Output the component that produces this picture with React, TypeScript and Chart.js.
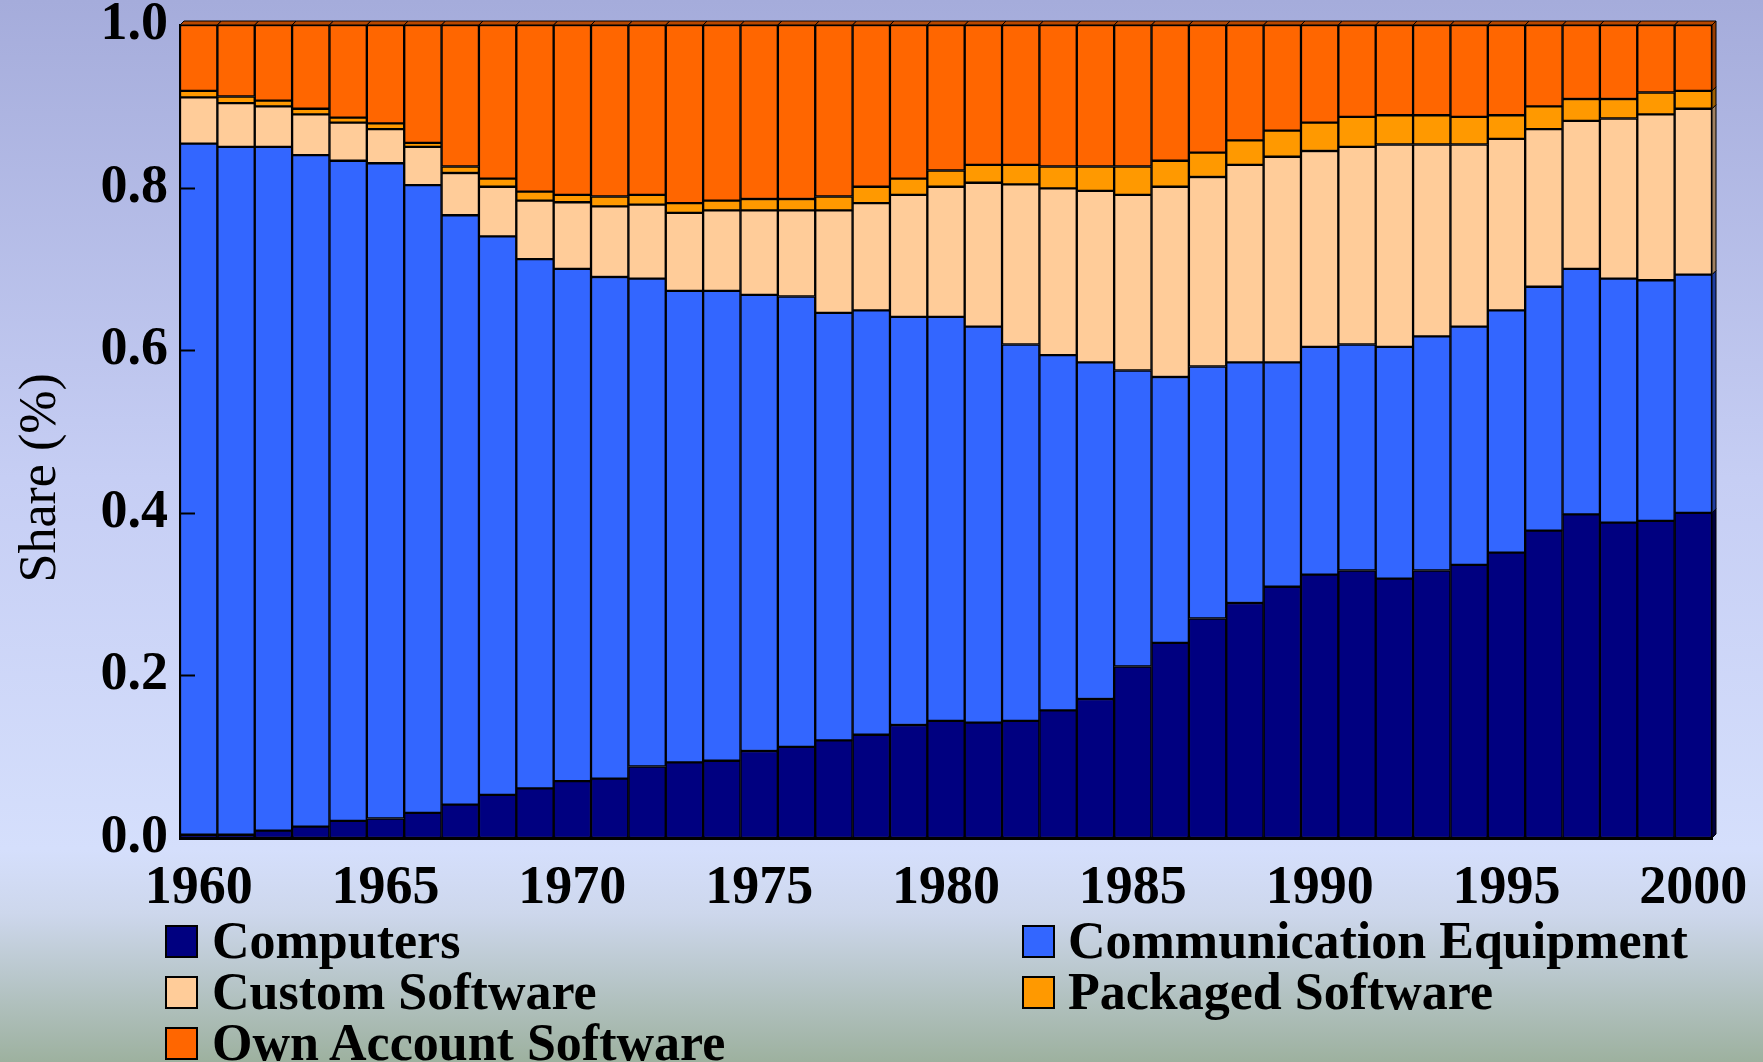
import React, { useEffect, useRef } from "react";
import { Chart, registerables } from "chart.js";

Chart.register(...registerables);

// ---- data ----
const years = [
  "1960", "1961", "1962", "1963", "1964", "1965", "1966", "1967", "1968", "1969",
  "1970", "1971", "1972", "1973", "1974", "1975", "1976", "1977", "1978", "1979",
  "1980", "1981", "1982", "1983", "1984", "1985", "1986", "1987", "1988", "1989",
  "1990", "1991", "1992", "1993", "1994", "1995", "1996", "1997", "1998", "1999",
  "2000",
];
const shownYearTicks = ["1960", "1965", "1970", "1975", "1980", "1985", "1990", "1995", "2000"];
const yTickValues = [0, 0.2, 0.4, 0.6, 0.8, 1.0];

const computers = [
  0.004, 0.004, 0.009, 0.014, 0.021, 0.024, 0.031, 0.041, 0.053, 0.061,
  0.070, 0.073, 0.088, 0.093, 0.095, 0.107, 0.112, 0.120, 0.127, 0.139,
  0.144, 0.142, 0.144, 0.157, 0.171, 0.211, 0.240, 0.270, 0.289, 0.309,
  0.324, 0.329, 0.319, 0.329, 0.336, 0.351, 0.378, 0.398, 0.388, 0.390,
  0.400,
];
const communicationEquipment = [
  0.850, 0.846, 0.841, 0.826, 0.812, 0.806, 0.772, 0.725, 0.687, 0.651,
  0.630, 0.617, 0.600, 0.580, 0.578, 0.561, 0.554, 0.526, 0.522, 0.502,
  0.497, 0.487, 0.463, 0.437, 0.414, 0.364, 0.327, 0.310, 0.296, 0.276,
  0.280, 0.278, 0.285, 0.288, 0.293, 0.298, 0.300, 0.302, 0.300, 0.296,
  0.293,
];
const customSoftware = [
  0.057, 0.054, 0.050, 0.050, 0.047, 0.042, 0.047, 0.052, 0.061, 0.072,
  0.082, 0.087, 0.091, 0.096, 0.099, 0.104, 0.106, 0.126, 0.132, 0.150,
  0.160, 0.177, 0.197, 0.205, 0.211, 0.216, 0.234, 0.233, 0.243, 0.253,
  0.241, 0.243, 0.249, 0.236, 0.224, 0.211, 0.194, 0.182, 0.197, 0.204,
  0.204,
];
const packagedSoftware = [
  0.008, 0.008, 0.007, 0.007, 0.006, 0.007, 0.005, 0.008, 0.010, 0.011,
  0.009, 0.012, 0.012, 0.012, 0.012, 0.014, 0.014, 0.017, 0.020, 0.020,
  0.020, 0.022, 0.024, 0.027, 0.030, 0.035, 0.032, 0.030, 0.030, 0.032,
  0.035, 0.037, 0.036, 0.036, 0.034, 0.029, 0.028, 0.027, 0.024, 0.027,
  0.022,
];
const ownAccountSoftware = [
  0.081, 0.088, 0.093, 0.103, 0.114, 0.121, 0.145, 0.174, 0.189, 0.205,
  0.209, 0.211, 0.209, 0.219, 0.216, 0.214, 0.214, 0.211, 0.199, 0.189,
  0.179, 0.172, 0.172, 0.174, 0.174, 0.174, 0.167, 0.157, 0.142, 0.130,
  0.120, 0.113, 0.111, 0.111, 0.113, 0.111, 0.100, 0.091, 0.091, 0.083,
  0.081,
];

const seriesNames = [
  "Computers",
  "Communication Equipment",
  "Custom Software",
  "Packaged Software",
  "Own Account Software",
];
const seriesValues = [computers, communicationEquipment, customSoftware, packagedSoftware, ownAccountSoftware];
const seriesColors = ["#000080", "#3366FF", "#FFCC99", "#FF9900", "#FF6600"];
const sideColors = ["#000040", "#1f3da0", "#a08060", "#a06000", "#9a3d00"];

const FONT = '"Liberation Serif", "Times New Roman", serif';

export default function App() {
  const ref = useRef<HTMLCanvasElement | null>(null);

  useEffect(() => {
    const canvas = ref.current;
    if (!canvas) return;
    const depth = 4;

    const decor = {
      id: "decor",
      afterDatasetsDraw(chart: any) {
        const ctx = chart.ctx;
        const n = chart.data.datasets.length;
        ctx.save();
        ctx.lineWidth = 1;
        ctx.strokeStyle = "#000";
        // top faces of bars (slight 3D)
        const topMeta = chart.getDatasetMeta(n - 1);
        topMeta.data.forEach((el: any) => {
          const x0 = el.x - el.width / 2;
          const x1 = el.x + el.width / 2;
          const t = el.y;
          ctx.beginPath();
          ctx.moveTo(x0, t);
          ctx.lineTo(x0 + depth, t - depth);
          ctx.lineTo(x1 + depth, t - depth);
          ctx.lineTo(x1, t);
          ctx.closePath();
          ctx.fillStyle = "#b84800";
          ctx.fill();
          ctx.stroke();
        });
        // right side face of the last bar
        for (let i = 0; i < n; i++) {
          const meta = chart.getDatasetMeta(i);
          const el: any = meta.data[meta.data.length - 1];
          const x1 = el.x + el.width / 2;
          const t = el.y;
          const b = el.base;
          ctx.beginPath();
          ctx.moveTo(x1, b);
          ctx.lineTo(x1, t);
          ctx.lineTo(x1 + depth, t - depth);
          ctx.lineTo(x1 + depth, b - depth);
          ctx.closePath();
          ctx.fillStyle = sideColors[i];
          ctx.fill();
          ctx.stroke();
        }
        // inner tick marks on the y axis
        const ys = chart.scales.y;
        const left = chart.chartArea.left;
        ctx.lineWidth = 2;
        yTickValues.slice(1, -1).forEach((v) => {
          const y = Math.round(ys.getPixelForValue(v)) + 0.5;
          ctx.beginPath();
          ctx.moveTo(left, y);
          ctx.lineTo(left + 15, y);
          ctx.stroke();
        });
        ctx.restore();
      },
      afterDraw(chart: any) {
        const ctx = chart.ctx;
        const { top, bottom } = chart.chartArea;
        ctx.save();
        ctx.translate(41, top + (bottom - top) * 0.557);
        ctx.rotate(-Math.PI / 2);
        ctx.font = `52px ${FONT}`;
        ctx.fillStyle = "#000";
        ctx.textAlign = "center";
        ctx.textBaseline = "middle";
        ctx.fillText("Share (%)", 0, 0);
        ctx.restore();
      },
    };

    const chart = new Chart(canvas, {
      type: "bar",
      data: {
        labels: years,
        datasets: seriesNames.map((name, i) => ({
          label: name,
          data: seriesValues[i],
          backgroundColor: seriesColors[i],
          borderColor: "#000",
          borderWidth: 1.5,
          borderSkipped: false,
          barPercentage: 1,
          categoryPercentage: 1,
        })),
      },
      options: {
        responsive: false,
        animation: false,
        layout: { padding: { top: 25, right: 51, left: 0, bottom: 0 } },
        plugins: {
          legend: { display: false },
          tooltip: { enabled: false },
          title: { display: false },
        },
        scales: {
          x: {
            stacked: true,
            z: 1,
            grid: { display: false, drawTicks: false },
            border: { display: true, color: "#000", width: 3 },
            ticks: {
              autoSkip: false,
              maxRotation: 0,
              minRotation: 0,
              padding: 19,
              color: "#000",
              font: { family: FONT, size: 54, weight: "bold" },
              callback: function (this: any, _v: any, idx: number) {
                const lab = years[idx];
                return shownYearTicks.includes(lab) ? lab : "";
              },
            },
            afterFit(scale: any) {
              scale.height = 224;
              scale.paddingLeft = 0;
              scale.paddingRight = 0;
            },
          },
          y: {
            stacked: true,
            min: 0,
            max: 1,
            z: 1,
            grid: { display: false, drawTicks: false },
            border: { display: true, color: "#000", width: 2 },
            ticks: {
              stepSize: 0.2,
              padding: 12,
              color: "#000",
              font: { family: FONT, size: 54, weight: "bold" },
              callback: (v: any) => Number(v).toFixed(1),
            },
            afterFit(scale: any) {
              scale.width = 180;
              scale.paddingTop = 0;
              scale.paddingBottom = 0;
            },
          },
        },
      } as any,
      plugins: [decor],
    });

    return () => chart.destroy();
  }, []);

  const legendPos = [
    { left: 165, textLeft: 212, row: 0 },
    { left: 1022, textLeft: 1068, row: 0 },
    { left: 165, textLeft: 212, row: 1 },
    { left: 1022, textLeft: 1068, row: 1 },
    { left: 165, textLeft: 212, row: 2 },
  ];

  return (
    <div
      style={{
        position: "fixed",
        left: 0,
        top: 0,
        width: 1763,
        height: 1062,
        overflow: "hidden",
        background:
          "linear-gradient(to bottom, #a5acdb 0%, #c6cef4 45%, #d5dffc 80%, #cdd7ec 86%, #9db19f 100%)",
      }}
    >
      <canvas ref={ref} width={1763} height={1062} style={{ position: "absolute", left: 0, top: 0 }} />
      {seriesNames.map((name, i) => {
        const p = legendPos[i];
        const baseline = 958 + p.row * 51;
        return (
          <React.Fragment key={name}>
            <div
              style={{
                position: "absolute",
                left: p.left,
                top: baseline - 33,
                width: 33,
                height: 33,
                boxSizing: "border-box",
                border: "2px solid #000",
                background: seriesColors[i],
              }}
            />
            <div
              style={{
                position: "absolute",
                left: p.textLeft,
                top: baseline - 43.5,
                fontFamily: FONT,
                fontWeight: "bold",
                fontSize: 52,
                lineHeight: "52px",
                whiteSpace: "nowrap",
                color: "#000",
              }}
            >
              {name}
            </div>
          </React.Fragment>
        );
      })}
    </div>
  );
}
